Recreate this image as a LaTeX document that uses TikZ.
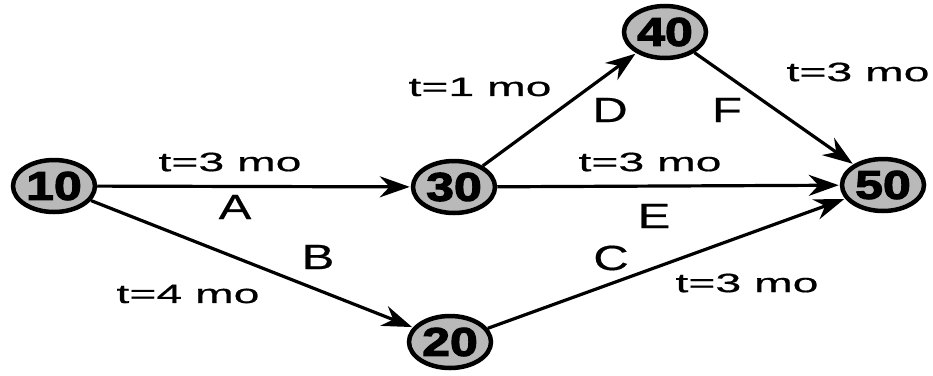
\documentclass[tikz,border=0pt]{standalone}
\usepackage{fontspec}
\usetikzlibrary{arrows.meta,shapes.geometric}
\newfontfamily\tfont[FakeStretch=1.75,FakeBold=0.6]{Liberation Sans}
\newfontfamily\lfont[FakeStretch=1.4,FakeBold=0.5]{Liberation Sans}
\newfontfamily\nfont[FakeStretch=1.25,FakeBold=3]{Liberation Sans}
\tikzset{
  ev/.style={ellipse, draw=black, line width=4.5pt, fill=gray!55, minimum width=82pt, minimum height=52pt, inner sep=0pt,
    font=\nfont\bfseries\fontsize{40}{40}\selectfont},
  act/.style={line width=3.2pt, -{Stealth[length=30pt,width=21pt]}, shorten >=1pt},
  tlab/.style={inner sep=0pt, font=\tfont\fontsize{26.5}{28}\selectfont},
  llab/.style={inner sep=0pt, font=\lfont\fontsize{35}{36}\selectfont}
}
\begin{document}
\begin{tikzpicture}[x=1pt,y=-1pt]
\useasboundingbox (0,0) rectangle (933,375);
\node[ev] (n10) at (54,186) {10};
\node[ev] (n30) at (454,187) {30};
\node[ev] (n40) at (665,32) {40};
\node[ev] (n50) at (883,185) {50};
\node[ev] (n20) at (450,342) {20};
\draw[act] (n10) -- (n30);
\draw[act] (n10) -- (n20);
\draw[act] (n30) -- (n40);
\draw[act] (n30) -- (n50);
\draw[act] (n40) -- (n50);
\draw[act] (n20) -- (n50);
\node[tlab] (tA) at (230,162) {t=3 mo};
\node[llab] (lA) at (235,207) {A};
\node[tlab] (tB) at (188,294) {t=4 mo};
\node[llab] (lB) at (318,257) {B};
\node[tlab] (tD) at (480,87) {t=1 mo};
\node[llab] (lD) at (610,110) {D};
\node[llab] (lF) at (727,110) {F};
\node[tlab] (tF) at (858,72) {t=3 mo};
\node[tlab] (tE) at (650,162) {t=3 mo};
\node[llab] (lE) at (654,216) {E};
\node[llab] (lC) at (611,258) {C};
\node[tlab] (tC) at (747,283) {t=3 mo};
\end{tikzpicture}
\end{document}
